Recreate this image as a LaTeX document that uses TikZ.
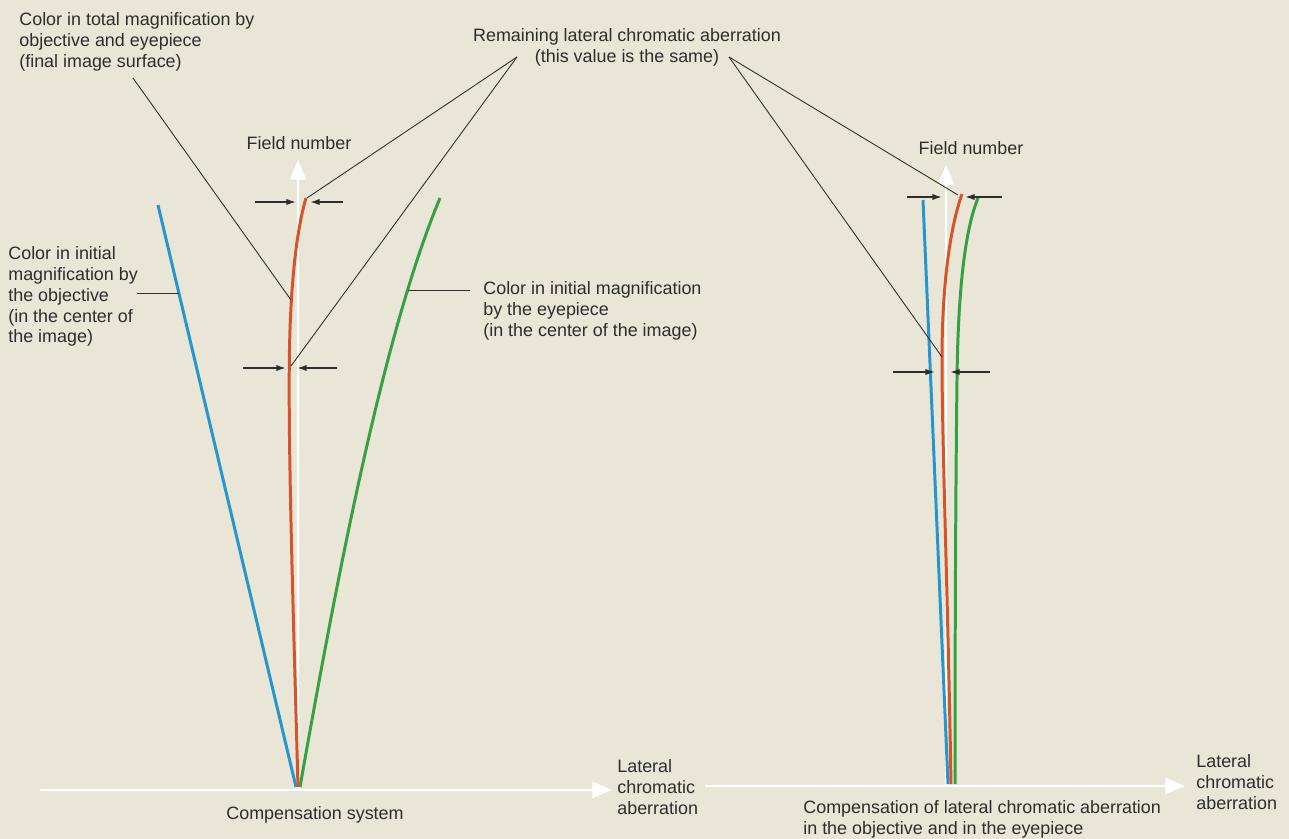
\documentclass[tikz,border=0pt]{standalone}
\usepackage{fontspec}
\setmainfont{Liberation Sans}
\usetikzlibrary{arrows,arrows.meta}
\definecolor{paper}{RGB}{233,229,215}
\definecolor{objblue}{RGB}{38,150,204}
\definecolor{totred}{RGB}{214,84,42}
\definecolor{eyegreen}{RGB}{52,162,64}
\definecolor{ink}{RGB}{45,45,45}

\begin{document}
\begin{tikzpicture}[x=0.02cm, y=-0.02cm]
    \tikzset{txt/.style = {font=\fontsize{10.2}{11.9}\selectfont, text=ink, inner sep=0pt, align=left, anchor=north west}}
    \tikzset{axis/.style = {draw=white, line width=1.6pt, -triangle 45}}
    \tikzset{leader/.style = {draw=ink, line width=0.5pt}}
    \tikzset{marker/.style = {draw=ink, line width=0.9pt, -{Latex[length=5.5pt,width=3.6pt]}}}
    \tikzset{ray/.style = {line width=1.7pt}}

    \fill[paper] (0,0) rectangle (1289,839);
    \useasboundingbox (0,0) rectangle (1289,839);

    % texts
    \node[txt] (tot) at (19,12) {Color in total magnification by\\objective and eyepiece\\(final image surface)};
    \node[txt, anchor=north, align=center] (rem) at (627,28) {Remaining lateral chromatic aberration\\(this value is the same)};
    \node[txt, anchor=center] (fn1) at (299,143) {Field number};
    \node[txt, anchor=center] (fn2) at (971,148) {Field number};
    \node[txt] (obj) at (8,246) {Color in initial\\magnification by\\the objective\\(in the center of\\the image)};
    \node[txt] (eye) at (483,281) {Color in initial magnification\\by the eyepiece\\(in the center of the image)};
    \node[txt] (lat1) at (617,759) {Lateral\\chromatic\\aberration};
    \node[txt] (lat2) at (1196,754) {Lateral\\chromatic\\aberration};
    \node[txt, anchor=center] (cs) at (315,815) {Compensation system};
    \node[txt] (cl) at (803,800) {Compensation of lateral chromatic aberration\\in the objective and in the eyepiece};

    % axes
    \coordinate (x1a) at (40,790);
    \coordinate (x1b) at (612,790);
    \coordinate (o1) at (298,790);
    \coordinate (y1) at (298,160);
    \coordinate (x2a) at (705,786);
    \coordinate (x2b) at (1185,786);
    \coordinate (o2) at (946,786);
    \coordinate (y2) at (946,165);
    \draw[axis] (x1a) -- (x1b);
    \draw[axis] (o1) -- (y1);
    \draw[axis] (x2a) -- (x2b);
    \draw[axis] (o2) -- (y2);

    % compensation system
    \coordinate (b1a) at (296,787);
    \coordinate (b1b) at (158,205);
    \coordinate (r1a) at (298,787);
    \coordinate (r1m) at (290,330);
    \coordinate (r1b) at (306,198);
    \coordinate (g1a) at (300,787);
    \coordinate (g1b) at (440,198);
    \draw[ray, objblue] (b1a) -- (b1b);
    \draw[ray, eyegreen] (g1a) .. controls (340,560) and (385,330) .. (g1b);
    \draw[ray, totred] (r1a) .. controls (293,600) and (287,420) .. (r1m)
        .. controls (292,270) and (298,225) .. (r1b);

    % compensation in objective and eyepiece
    \coordinate (b2a) at (948,784);
    \coordinate (b2b) at (923,200);
    \coordinate (r2a) at (951,784);
    \coordinate (r2m) at (942,360);
    \coordinate (r2b) at (962,194);
    \coordinate (g2a) at (955,784);
    \coordinate (g2m) at (957,380);
    \coordinate (g2b) at (978,198);
    \draw[ray, objblue] (b2a) -- (b2b);
    \draw[ray, eyegreen] (g2a) .. controls (955,600) and (956,460) .. (g2m)
        .. controls (958,290) and (965,230) .. (g2b);
    \draw[ray, totred] (r2a) .. controls (948,600) and (942,440) .. (r2m)
        .. controls (942,280) and (951,225) .. (r2b);

    % leaders
    \coordinate (tot-l) at (133,78);
    \coordinate (tot-p) at (291,300);
    \coordinate (rem-l) at (517,57);
    \coordinate (rem-r) at (729,57);
    \coordinate (rem-p1) at (307,198);
    \coordinate (rem-p2) at (291,366);
    \coordinate (rem-p3) at (958,195);
    \coordinate (rem-p4) at (942,357);
    \coordinate (obj-l) at (137,293);
    \coordinate (obj-p) at (179,293);
    \coordinate (eye-l) at (470,290);
    \coordinate (eye-p) at (408,290);
    \draw[leader] (tot-l) -- (tot-p);
    \draw[leader] (rem-l) -- (rem-p1);
    \draw[leader] (rem-l) -- (rem-p2);
    \draw[leader] (rem-r) -- (rem-p3);
    \draw[leader] (rem-r) -- (rem-p4);
    \draw[leader] (obj-l) -- (obj-p);
    \draw[leader] (eye-l) -- (eye-p);

    % aberration markers
    \coordinate (m1a) at (255,202);
    \coordinate (m1b) at (296,202);
    \coordinate (m1c) at (343,202);
    \coordinate (m1d) at (310,202);
    \coordinate (m2a) at (243,368);
    \coordinate (m2b) at (286,368);
    \coordinate (m2c) at (337,368);
    \coordinate (m2d) at (297,368);
    \coordinate (m3a) at (907,197);
    \coordinate (m3b) at (942,197);
    \coordinate (m3c) at (1002,197);
    \coordinate (m3d) at (965,197);
    \coordinate (m4a) at (893,372);
    \coordinate (m4b) at (935,372);
    \coordinate (m4c) at (990,372);
    \coordinate (m4d) at (950,372);
    \draw[marker] (m1a) -- (m1b);
    \draw[marker] (m1c) -- (m1d);
    \draw[marker] (m2a) -- (m2b);
    \draw[marker] (m2c) -- (m2d);
    \draw[marker] (m3a) -- (m3b);
    \draw[marker] (m3c) -- (m3d);
    \draw[marker] (m4a) -- (m4b);
    \draw[marker] (m4c) -- (m4d);
\end{tikzpicture}
\end{document}
